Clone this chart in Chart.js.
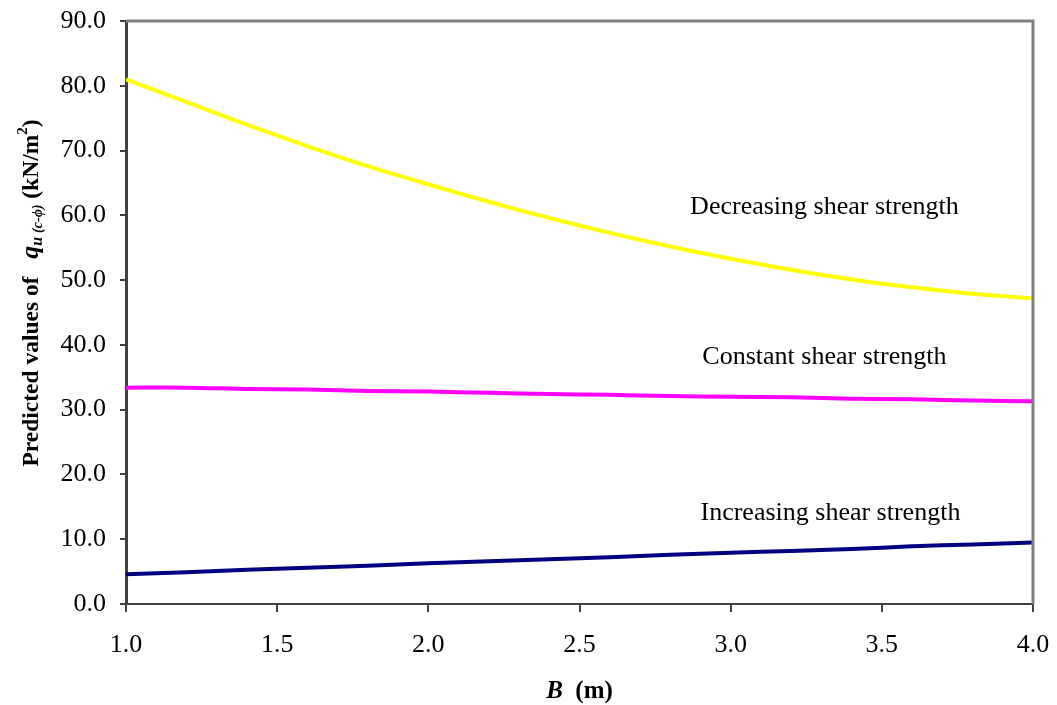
<!DOCTYPE html>
<html lang="en">
<head>
  <meta charset="UTF-8" />
  <title>Predicted qu vs B</title>
  <script src="https://cdn.jsdelivr.net/npm/chart.js"></script>
  <style>
    body { margin: 0; background: #fff; }
    #wrap { width: 1057px; height: 705px; }
  </style>
</head>
<body>
  <div id="wrap"><canvas id="chart" width="1057" height="705"></canvas></div>

  <script>
    // values (B in m, q in kN/m2)
    const B_VALUES = [1.0, 1.2, 1.4, 1.6, 1.8, 2.0, 2.2, 2.4, 2.6, 2.8, 3.0, 3.2, 3.4, 3.6, 3.8, 4.0];
    const DECREASING = [81.0, 77.5, 74.0, 70.7, 67.6, 64.8, 62.1, 59.6, 57.3, 55.2, 53.3, 51.6, 50.1, 48.9, 47.9, 47.2];
    const CONSTANT = [33.4, 33.4, 33.2, 33.1, 32.9, 32.8, 32.6, 32.4, 32.3, 32.1, 32.0, 31.9, 31.7, 31.6, 31.4, 31.3];
    const INCREASING = [4.6, 4.9, 5.3, 5.6, 5.9, 6.3, 6.6, 6.9, 7.2, 7.6, 7.9, 8.2, 8.5, 8.9, 9.2, 9.5];
    const SERIES_NAMES = ['Decreasing shear strength', 'Constant shear strength', 'Increasing shear strength'];
    const X_TICKS = [1.0, 1.5, 2.0, 2.5, 3.0, 3.5, 4.0];
    const Y_TICKS = [0, 10, 20, 30, 40, 50, 60, 70, 80, 90];

    const SERIF = '"Liberation Serif", "Times New Roman", serif';

    const toPoints = ys => B_VALUES.map((b, i) => ({ x: b, y: ys[i] }));

    // text labels next to each curve, in data units
    const labelSpots = [
      { x: 3.31, y: 61.3 },
      { x: 3.31, y: 38.1 },
      { x: 3.33, y: 14.0 }
    ];

    const decorations = {
      id: 'decorations',
      afterDraw(chart) {
        const { ctx, chartArea: a, scales } = chart;
        ctx.save();

        // grey frame on top and right
        ctx.strokeStyle = '#808080';
        ctx.lineWidth = 3;
        ctx.beginPath();
        ctx.moveTo(a.left, a.top);
        ctx.lineTo(a.right, a.top);
        ctx.lineTo(a.right, a.bottom);
        ctx.stroke();

        // curve labels
        ctx.fillStyle = '#000';
        ctx.font = '26px ' + SERIF;
        ctx.textAlign = 'center';
        ctx.textBaseline = 'middle';
        SERIES_NAMES.forEach((name, i) => {
          const p = labelSpots[i];
          ctx.fillText(name, scales.x.getPixelForValue(p.x), scales.y.getPixelForValue(p.y));
        });

        // x title: B (m)
        ctx.textBaseline = 'alphabetic';
        ctx.textAlign = 'left';
        const xParts = [
          { t: 'B', f: 'italic bold 25px ' + SERIF },
          { t: '  (m)', f: 'bold 25px ' + SERIF }
        ];
        let w = 0;
        xParts.forEach(p => { ctx.font = p.f; w += ctx.measureText(p.t).width; });
        let cx = (a.left + a.right) / 2 - w / 2;
        xParts.forEach(p => {
          ctx.font = p.f;
          ctx.fillText(p.t, cx, 698);
          cx += ctx.measureText(p.t).width;
        });

        // y title, rotated
        const yParts = [
          { t: 'Predicted values of   ', f: 'bold 23.5px ' + SERIF, dy: 0 },
          { t: 'q', f: 'italic bold 26px ' + SERIF, dy: 0 },
          { t: 'u ', f: 'italic bold 16px ' + SERIF, dy: 4 },
          { t: '(c-\u03D5)', f: 'italic bold 14px ' + SERIF, dy: 4 },
          { t: ' (kN/m', f: 'bold 23.5px ' + SERIF, dy: 0 },
          { t: '2', f: 'bold 15px ' + SERIF, dy: -11 },
          { t: ')', f: 'bold 23.5px ' + SERIF, dy: 0 }
        ];
        ctx.translate(38, 293);
        ctx.rotate(-Math.PI / 2);
        w = 0;
        yParts.forEach(p => { ctx.font = p.f; w += ctx.measureText(p.t).width; });
        cx = -w / 2;
        yParts.forEach(p => {
          ctx.font = p.f;
          ctx.fillText(p.t, cx, p.dy);
          cx += ctx.measureText(p.t).width;
        });

        ctx.restore();
      }
    };

    const lineStyle = color => ({
      borderColor: color,
      backgroundColor: color,
      borderWidth: 4,
      pointRadius: 0,
      tension: 0.3,
      fill: false
    });

    new Chart(document.getElementById('chart'), {
      type: 'line',
      data: {
        datasets: [
          { label: SERIES_NAMES[0], data: toPoints(DECREASING), ...lineStyle('#FFFF00') },
          { label: SERIES_NAMES[1], data: toPoints(CONSTANT), ...lineStyle('#FF00FF') },
          { label: SERIES_NAMES[2], data: toPoints(INCREASING), ...lineStyle('#000080') }
        ]
      },
      options: {
        responsive: false,
        animation: false,
        layout: { padding: { top: 21, right: 24, left: 0, bottom: 0 } },
        plugins: {
          legend: { display: false },
          tooltip: { enabled: false }
        },
        scales: {
          x: {
            type: 'linear',
            min: 1,
            max: 4,
            afterBuildTicks: s => { s.ticks = X_TICKS.map(v => ({ value: v })); },
            afterFit: s => { s.height = 101; s.paddingLeft = 0; s.paddingRight = 0; },
            ticks: {
              callback: v => v.toFixed(1),
              color: '#000',
              padding: 18,
              maxRotation: 0,
              font: { family: SERIF, size: 26 }
            },
            grid: { drawOnChartArea: false, drawTicks: true, tickLength: 8, color: '#404040', lineWidth: 2 },
            border: { color: '#404040', width: 2 }
          },
          y: {
            min: 0,
            max: 90,
            afterBuildTicks: s => { s.ticks = Y_TICKS.map(v => ({ value: v })); },
            afterFit: s => { s.width = 126; s.paddingTop = 0; s.paddingBottom = 0; },
            ticks: {
              callback: v => v.toFixed(1),
              color: '#000',
              padding: 14,
              font: { family: SERIF, size: 26 }
            },
            grid: { drawOnChartArea: false, drawTicks: true, tickLength: 6, color: '#404040', lineWidth: 2 },
            border: { color: '#404040', width: 3 }
          }
        }
      },
      plugins: [decorations]
    });
  </script>
</body>
</html>
